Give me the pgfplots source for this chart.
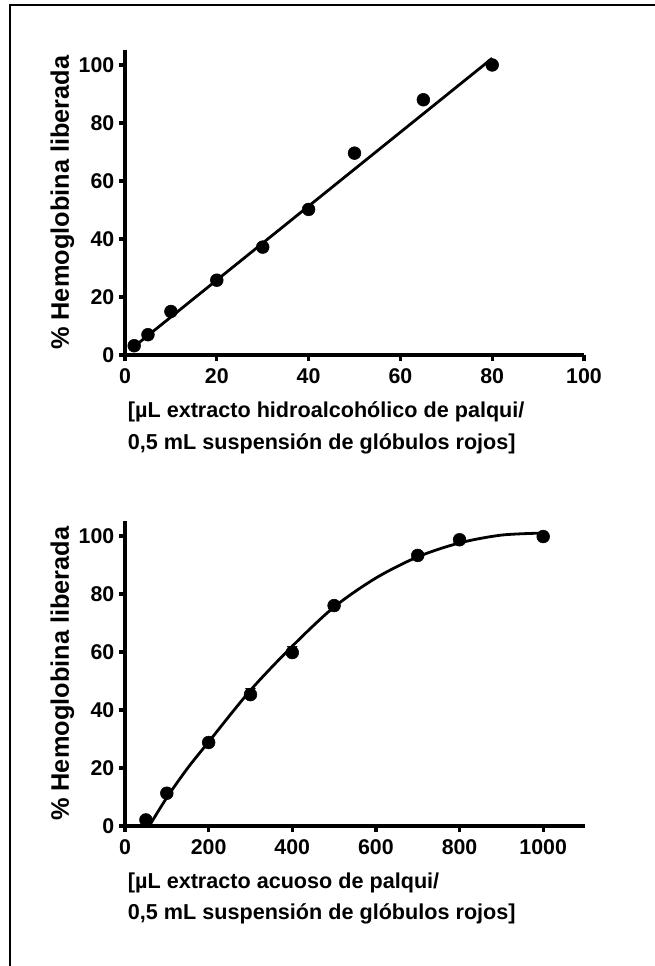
\documentclass[border=0pt]{standalone}
\usepackage{pgfplots}
\pgfplotsset{compat=1.18}
\usepackage{fontspec}
\setmainfont{Liberation Sans}
\begin{document}
\begin{tikzpicture}
\path[use as bounding box] (0pt,0pt) rectangle (491.25pt,-724.5pt);
\draw[line width=1.5pt] (7.5pt,-726pt) -- (7.5pt,-3.75pt) -- (492pt,-3.75pt);
\pgfplotsset{
  prismaxis/.style={
    scale only axis,
    axis x line*=bottom, axis y line*=left,
    axis line style={-, line width=2.4pt},
    tick align=outside,
    major tick length=4.5pt,
    every tick/.style={black, line width=2.4pt},
    enlargelimits=false,
    clip=false,
    hide obscured x ticks=false,
    hide obscured y ticks=false,
    ymin=0, ymax=105,
    ytick={0,20,...,100},
    /pgf/number format/assume math mode=true,
    /pgf/number format/1000 sep={},
    tick label style={font=\fontsize{16}{18}\selectfont\bfseries},
    xticklabel style={yshift=-2pt},
    xlabel style={at={(axis description cs:0,0)}, anchor=north west, inner sep=0pt,
      xshift=2pt, yshift=-35pt, align=left, font=\fontsize{16.2}{23.5}\selectfont\bfseries},
    ylabel style={at={(axis description cs:0,0.5)}, anchor=center,
      yshift=47pt, xshift=0pt, font=\fontsize{19}{22}\selectfont\bfseries},
  }
}
\begin{axis}[prismaxis,
  at={(93.75pt,-266.25pt)}, anchor=south west,
  width=344.25pt, height=228.4pt,
  xmin=0, xmax=100, xtick={0,20,...,100},
  xlabel={[µL extracto hidroalcohólico de palqui/\\0,5 mL suspensión de glóbulos rojos]},
  ylabel={\% Hemoglobina liberada},
]
\addplot[black, line width=2.1pt] coordinates {(2,2.9) (80,102.3)};
\addplot[only marks, mark=*, mark size=4.8pt, black] coordinates {
(2,3.2) (5,7) (10,15) (20,25.8) (30,37.2) (40,50.2) (50,69.6) (65,88) (80,100)};
\end{axis}
\begin{axis}[prismaxis,
  at={(93.75pt,-619.5pt)}, anchor=south west,
  width=345pt, height=228.4pt,
  xmin=0, xmax=1100, xtick={0,200,...,1000},
  xlabel={[µL extracto acuoso de palqui/\\0,5 mL suspensión de glóbulos rojos]},
  ylabel={\% Hemoglobina liberada},
]
\addplot[black, line width=2.1pt, smooth] coordinates {
(58,0) (100,9.8) (150,20) (200,29) (300,46.8) (400,62) (500,75.5) (600,85.5) (700,92.8) (800,97.6) (900,100.3) (1000,101)};
\addplot[only marks, mark=triangle*, mark size=4.2pt, mark options={rotate=180}, black] coordinates {(300,46.5) (400,61)};
\addplot[only marks, mark=*, mark size=4.8pt, black] coordinates {
(50,2.1) (100,11.3) (200,28.8) (300,45.3) (400,59.8) (500,76) (700,93.3) (800,98.7) (1000,99.8)};
\end{axis}
\end{tikzpicture}
\end{document}
